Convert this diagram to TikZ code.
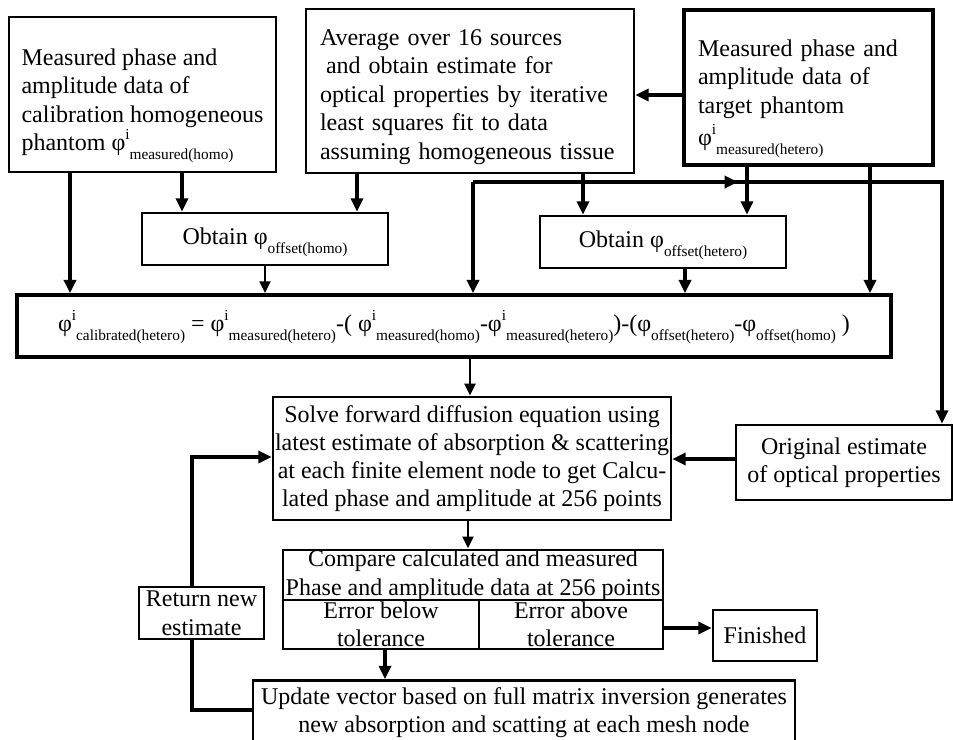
\documentclass[tikz,border=0pt]{standalone}
\usepackage{fontspec}
\setmainfont{Liberation Serif}
\usetikzlibrary{arrows.meta}

\newcommand{\sbs}[1]{\smash{\raisebox{-0.75ex}{\fontsize{11.5}{12}\selectfont #1}}}
\newcommand{\sps}[1]{\smash{\raisebox{1.05ex}{\fontsize{11.5}{12}\selectfont #1}}}
\newcommand{\phii}[1]{φ\sps{i}\sbs{#1}}
\newcommand{\phio}[1]{φ\sbs{#1}}

\begin{document}
\begin{tikzpicture}[x=0.75pt,y=0.75pt,yscale=-1,xscale=1,
  box/.style={draw, line width=2pt, inner sep=0pt, font=\fontsize{18}{21.4}\selectfont},
  flow/.style={line width=3.2pt, -{Triangle[length=10pt,width=9pt]}},
  thinflow/.style={line width=2.2pt, -{Triangle[length=9pt,width=8pt]}},
  link/.style={line width=3.2pt}]
%set diagram left start at 0, and has height of 739
\useasboundingbox (0,0) rectangle (953,739);

% Text Node
\node[box, minimum width=200.25pt, minimum height=116.25pt, align=left] (homo) at (142.5,94.5) {\rule{0pt}{24pt}Measured phase and\\amplitude data of\\calibration homogeneous\\phantom \phii{measured(homo)}};
% Text Node
\node[box, minimum width=246pt, minimum height=123pt, text width=225pt, align=left] (avg) at (470,91) {\rule{0pt}{21pt}Average over 16 sources\\\hspace*{0.25em}and obtain estimate for\\optical properties by iterative\\least squares fit to data\\assuming homogeneous tissue};
% Text Node
\node[box, line width=3.2pt, minimum width=186.75pt, minimum height=116.25pt, text width=165.75pt, align=left] (target) at (808.5,87.5) {\rule{0pt}{24pt}Measured phase and\\amplitude data of\\target phantom\\[3pt]\phii{measured(hetero)}};
% Text Node
\node[box, minimum width=184.5pt, minimum height=39pt] (offhomo) at (265,239) {Obtain \phio{offset(homo)}};
% Text Node
\node[box, minimum width=184.5pt, minimum height=39pt] (offhet) at (663,242) {Obtain \phio{offset(hetero)}};
% Text Node
\node[box, line width=2.6pt, minimum width=655.5pt, minimum height=46.5pt] (calib) at (454,326) {\phii{calibrated(hetero)} = \phii{measured(hetero)}-( \phii{measured(homo)}-\phii{measured(hetero)})-(\phio{offset(hetero)}-\phio{offset(homo)} )};
% Text Node
\node[box, minimum width=298.5pt, minimum height=92.25pt, align=center, font=\fontsize{18}{20.8}\selectfont] (solve) at (472,458.5) {Solve forward diffusion equation using\\latest estimate of absorption \& scattering\\at each finite element node to get Calcu-\\lated phase and amplitude at 256 points};
% Text Node
\node[box, minimum width=162pt, minimum height=56.25pt, align=center] (orig) at (844,462.5) {Original estimate\\of optical properties};
% Text Node
\node[box, minimum width=285pt, minimum height=37.5pt, align=center] (cmp) at (473,575) {Compare calculated and measured\\Phase and amplitude data at 256 points};
% Text Node
\node[box, minimum width=147pt, minimum height=36.75pt, align=center] (below) at (381,624.5) {Error below\\tolerance};
% Text Node
\node[box, minimum width=138pt, minimum height=36.75pt, align=center] (above) at (571,624.5) {Error above\\tolerance};
% Text Node
\node[box, minimum width=93.75pt, minimum height=39pt, align=center] (ret) at (201.5,613) {Return new\\estimate};
% Text Node
\node[box, minimum width=78pt, minimum height=38.25pt] (fin) at (765,635.5) {Finished};
% Text Node
\node[box, minimum width=406.5pt, minimum height=48pt, align=center] (upd) at (524,712.5) {Update vector based on full matrix inversion generates\\new absorption and scatting at each mesh node};

%Straight Lines
\draw[flow] (homo.south -| 70,0) -- (calib.north -| 70,0);
\draw[flow] (homo.south -| 182,0) -- (offhomo.north -| 182,0);
\draw[flow] (avg.south -| 357,0) -- (offhomo.north -| 357,0);
\draw[flow] (avg.south -| 583,0) -- (offhet.north -| 583,0);
\draw[flow] (target.west |- 0,95) -- (avg.east |- 0,95);
\draw[flow] (target.south -| 747,0) -- (offhet.north -| 747,0);
\draw[flow] (target.south -| 870,0) -- (calib.north -| 870,0);
%Straight Lines
\coordinate (split) at (473,182);
\draw[flow] (split) -- (calib.north -| split);
\draw[flow] (split) -- (738,182);
\draw[flow] (split) -- (942,182) -- (orig.north -| 942,0);
%Straight Lines
\draw[thinflow] (offhomo.south -| 265,0) -- (calib.north -| 265,0);
\draw[flow] (offhet.south -| 685,0) -- (calib.north -| 685,0);
\draw[thinflow] (calib.south -| 470,0) -- (solve.north -| 470,0);
\draw[flow] (orig.west |- 0,459) -- (solve.east |- 0,459);
\draw[thinflow] (solve.south -| 468,0) -- (cmp.north -| 468,0);
\draw[flow] (above.east |- 0,628) -- (fin.west |- 0,628);
\draw[flow] (below.south -| 385,0) -- (upd.north -| 385,0);
%Straight Lines
\draw[link] (upd.west |- 0,710) -- (192,710) -- (ret.south -| 192,0);
\draw[flow] (ret.north -| 192,0) -- (192,457) -- (solve.west |- 0,457);

\end{tikzpicture}
\end{document}
